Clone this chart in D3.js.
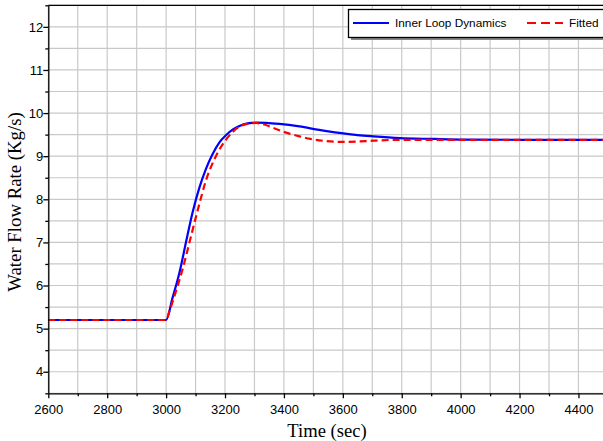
<!DOCTYPE html>
<html>
<head>
<meta charset="utf-8">
<script src="https://cdn.jsdelivr.net/npm/d3@7"></script>
<style>
html,body{margin:0;padding:0;background:#fff;overflow:hidden;}
svg{display:block;}
</style>
</head>
<body>
<svg id="chart" width="603" height="441"></svg>
<script>
// ---- data ----
const blueTime = [2600, 3000, 3022, 3045, 3068, 3090, 3113, 3135, 3158, 3181, 3204, 3227, 3249, 3277, 3306, 3340, 3385, 3453, 3520, 3588, 3650, 3704, 3794, 3907, 4000, 4200, 4500];
const blueVal  = [5.2, 5.2, 5.72, 6.29, 7.02, 7.70, 8.27, 8.70, 9.05, 9.32, 9.49, 9.62, 9.70, 9.76, 9.78, 9.775, 9.75, 9.69, 9.61, 9.54, 9.49, 9.46, 9.42, 9.40, 9.385, 9.38, 9.38];
const redTime  = [2600, 3000, 3011, 3033, 3056, 3080, 3107, 3135, 3169, 3203, 3227, 3249, 3275, 3306, 3330, 3373, 3410, 3447, 3490, 3543, 3600, 3650, 3704, 3794, 3900, 4500];
const redVal   = [5.2, 5.2, 5.40, 5.86, 6.38, 7.02, 7.74, 8.43, 9.00, 9.38, 9.57, 9.69, 9.75, 9.77, 9.74, 9.63, 9.54, 9.47, 9.40, 9.35, 9.33, 9.34, 9.36, 9.38, 9.38, 9.38];
const xMajor = [2600, 2800, 3000, 3200, 3400, 3600, 3800, 4000, 4200, 4400];
const xMinor = [2700, 2900, 3100, 3300, 3500, 3700, 3900, 4100, 4300, 4500];
const yMajor = [4, 5, 6, 7, 8, 9, 10, 11, 12];
const yMinor = [3.5, 4.5, 5.5, 6.5, 7.5, 8.5, 9.5, 10.5, 11.5, 12.5];
const seriesNames = ["Inner Loop Dynamics", "Fitted"];

// ---- layout ----
const L = 48.3, R = 607.9, T = 5.3, B = 393.3;
const svg = d3.select("#chart");
const x = d3.scaleLinear().domain([2600, 4500]).range([L, R]);
const y = d3.scaleLinear().domain([3.5, 12.5]).range([B, T]);

// grid
const grid = svg.append("g").attr("stroke", "#c9c9c9").attr("stroke-width", 1.2);
xMajor.concat(xMinor).forEach(v => {
  grid.append("line").attr("x1", x(v)).attr("x2", x(v)).attr("y1", T).attr("y2", B);
});
yMajor.concat(yMinor).forEach(v => {
  grid.append("line").attr("x1", L).attr("x2", R).attr("y1", y(v)).attr("y2", y(v));
});

// lines
const line = (tArr, vArr) => d3.line()
  .x(i => x(tArr[i])).y(i => y(vArr[i]))
  .curve(d3.curveMonotoneX)(d3.range(tArr.length));

svg.append("path").attr("d", line(blueTime, blueVal))
  .attr("fill", "none").attr("stroke", "#0000ff").attr("stroke-width", 2.2);
svg.append("path").attr("d", line(redTime, redVal))
  .attr("fill", "none").attr("stroke", "#ff0000").attr("stroke-width", 2.2)
  .attr("stroke-dasharray", "7,4");

// axes
const fontTick = "'Liberation Sans', Arial, sans-serif";
const xAxis = d3.axisBottom(x).tickValues(xMajor).tickSize(5).tickSizeOuter(0).tickFormat(d3.format("d"));
const gx = svg.append("g").attr("transform", `translate(0,${B})`).call(xAxis);
gx.selectAll("text").attr("font-family", fontTick).attr("font-size", 13).attr("fill", "#000").attr("dy", "0.95em");
const xMinorAxis = d3.axisBottom(x).tickValues(xMinor).tickSize(3).tickSizeOuter(0).tickFormat("");
svg.append("g").attr("transform", `translate(0,${B})`).call(xMinorAxis).select(".domain").remove();

const yAxis = d3.axisLeft(y).tickValues(yMajor).tickSize(5).tickSizeOuter(0).tickFormat(d3.format("d"));
const gy = svg.append("g").attr("transform", `translate(${L},0)`).call(yAxis);
gy.selectAll("text").attr("font-family", fontTick).attr("font-size", 13).attr("fill", "#000").attr("x", -5);
const yMinorAxis = d3.axisLeft(y).tickValues(yMinor).tickSize(3).tickSizeOuter(0).tickFormat("");
svg.append("g").attr("transform", `translate(${L},0)`).call(yMinorAxis).select(".domain").remove();

svg.selectAll(".domain, .tick line").attr("stroke", "#000").attr("stroke-width", 1.3);

// top border
svg.append("line").attr("x1", L).attr("x2", R).attr("y1", T).attr("y2", T)
  .attr("stroke", "#000").attr("stroke-width", 1.3);

// axis titles
const fontTitle = "'Liberation Serif', 'Times New Roman', serif";
svg.append("text").attr("x", 327).attr("y", 437).attr("text-anchor", "middle")
  .attr("font-family", fontTitle).attr("font-size", 18.6).text("Time (sec)");
svg.append("text").attr("transform", "translate(21,202) rotate(-90)").attr("text-anchor", "middle")
  .attr("font-family", fontTitle).attr("font-size", 18.8).text("Water Flow Rate (Kg/s)");

// legend
const lg = svg.append("g");
lg.append("rect").attr("x", 351).attr("y", 12).attr("width", 280).attr("height", 28).attr("fill", "#888");
lg.append("rect").attr("x", 348.5).attr("y", 9.5).attr("width", 280).attr("height", 28)
  .attr("fill", "#fff").attr("stroke", "#000").attr("stroke-width", 1.3);
lg.append("line").attr("x1", 353).attr("x2", 389).attr("y1", 23).attr("y2", 23)
  .attr("stroke", "#0000ff").attr("stroke-width", 2.2);
lg.append("text").attr("x", 395).attr("y", 27).attr("font-family", fontTick).attr("font-size", 11.8).text(seriesNames[0]);
lg.append("line").attr("x1", 527).attr("x2", 563).attr("y1", 23).attr("y2", 23)
  .attr("stroke", "#ff0000").attr("stroke-width", 2.2).attr("stroke-dasharray", "9,5");
lg.append("text").attr("x", 569).attr("y", 27).attr("font-family", fontTick).attr("font-size", 11.8).text(seriesNames[1]);
</script>
</body>
</html>
